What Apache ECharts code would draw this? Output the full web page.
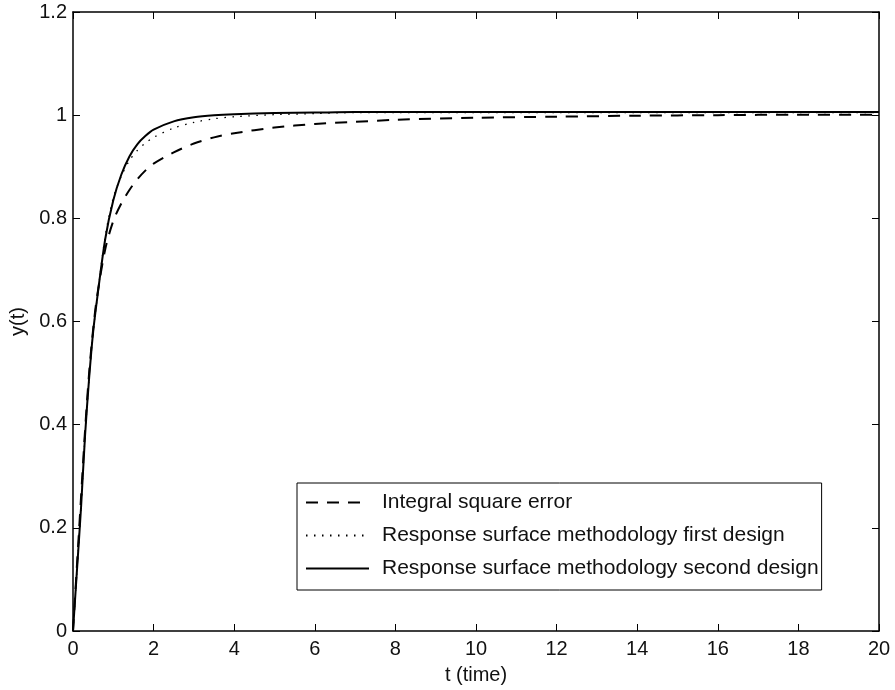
<!DOCTYPE html>
<html>
<head>
<meta charset="utf-8">
<script src="https://cdn.jsdelivr.net/npm/echarts@6/dist/echarts.min.js"></script>
<style>html,body{margin:0;padding:0;background:#fff}#c{width:895px;height:690px}</style>
</head>
<body>
<div id="c"></div>
<script>
var tIse  = [0,0.1,0.2,0.3,0.4,0.5,0.6,0.8,1.0,1.2,1.4,1.6,1.8,2.0,2.5,3.0,3.5,4,5,6,7,8,10,12,14,16,18,20];
var yIse  = [0,0.13,0.26,0.39,0.50,0.585,0.65,0.74,0.795,0.829,0.855,0.876,0.893,0.906,0.928,0.945,0.957,0.965,0.976,0.983,0.987,0.991,0.995,0.997,0.999,1.000,1.001,1.001];
var tRsm1 = [0,0.1,0.2,0.3,0.4,0.5,0.6,0.8,1.0,1.2,1.4,1.6,1.8,2.0,2.5,3.0,3.5,4,5,6,7,8,10,12,14,16,18,20];
var yRsm1 = [0,0.12,0.24,0.38,0.49,0.58,0.645,0.765,0.84,0.882,0.912,0.932,0.946,0.957,0.975,0.986,0.993,0.997,1.001,1.003,1.005,1.005,1.005,1.005,1.005,1.005,1.005,1.005];
var tRsm2 = [0,0.1,0.2,0.3,0.4,0.5,0.6,0.8,1.0,1.2,1.4,1.6,1.8,2.0,2.5,3.0,3.5,4,5,6,7,8,10,12,14,16,18,20];
var yRsm2 = [0,0.12,0.24,0.38,0.49,0.58,0.645,0.76,0.835,0.885,0.92,0.944,0.96,0.972,0.988,0.996,1.0,1.002,1.004,1.005,1.006,1.006,1.006,1.006,1.006,1.006,1.006,1.006];
var seriesNames = ['Integral square error','Response surface methodology first design','Response surface methodology second design'];
var xTicks = [0,2,4,6,8,10,12,14,16,18,20];
var yTicks = [0,0.2,0.4,0.6,0.8,1,1.2];

function pairs(t, y){ return t.map(function(v,i){ return [v, y[i]]; }); }

var chart = echarts.init(document.getElementById('c'));
var font = 'Liberation Sans, Arial, Helvetica, sans-serif';
var baseAxis = {
  axisLine:{show:true, onZero:false, lineStyle:{color:'#000', width:1.5}},
  axisTick:{show:true, inside:true, length:7, lineStyle:{color:'#000', width:1}},
  splitLine:{show:false}
};
chart.setOption({
  animation:false,
  backgroundColor:'#fff',
  grid:{left:73, right:16, top:12, bottom:56, containLabel:false},
  legend:{
    orient:'vertical', left:297, top:483,
    data:seriesNames,
    itemWidth:63, itemHeight:14, itemGap:12,
    borderColor:'#000', borderWidth:1, padding:[9,3,11,8],
    backgroundColor:'#fff',
    itemStyle:{opacity:0},
    textStyle:{fontFamily:font, fontSize:21, lineHeight:21, color:'#111', padding:[0,0,0,8]}
  },
  xAxis:[
    Object.assign({type:'value', position:'bottom', min:0, max:20, interval:2,
      name:'t (time)', nameLocation:'middle', nameGap:34,
      nameTextStyle:{fontFamily:font, fontSize:20, color:'#111'},
      axisLabel:{fontFamily:font, fontSize:20, color:'#111', margin:8,
        formatter:function(v){ return xTicks.indexOf(v)>=0 ? String(v) : ''; }}
    }, baseAxis),
    Object.assign({type:'value', position:'top', min:0, max:20, interval:2,
      axisLabel:{show:false}}, baseAxis)
  ],
  yAxis:[
    Object.assign({type:'value', position:'left', min:0, max:1.2, interval:0.2,
      name:'y(t)', nameLocation:'middle', nameGap:44, nameRotate:90,
      nameTextStyle:{fontFamily:font, fontSize:20, color:'#111'},
      axisLabel:{fontFamily:font, fontSize:20, color:'#111', margin:6,
        formatter:function(v){ var r=Math.round(v*10)/10; return String(r); }}
    }, baseAxis),
    Object.assign({type:'value', position:'right', min:0, max:1.2, interval:0.2,
      axisLabel:{show:false}}, baseAxis)
  ],
  series:[
    {name:seriesNames[0], type:'line', data:pairs(tIse,yIse), smooth:0.3, symbol:'none',
     lineStyle:{color:'#000', width:2, type:[12,9]}, itemStyle:{color:'#000'}},
    {name:seriesNames[1], type:'line', data:pairs(tRsm1,yRsm1), smooth:0.3, symbol:'none',
     lineStyle:{color:'#000', width:1.3, type:[1.5,6.5]}, itemStyle:{color:'#000'}},
    {name:seriesNames[2], type:'line', data:pairs(tRsm2,yRsm2), smooth:0.3, symbol:'none',
     lineStyle:{color:'#000', width:2}, itemStyle:{color:'#000'}}
  ]
});
</script>
</body>
</html>
